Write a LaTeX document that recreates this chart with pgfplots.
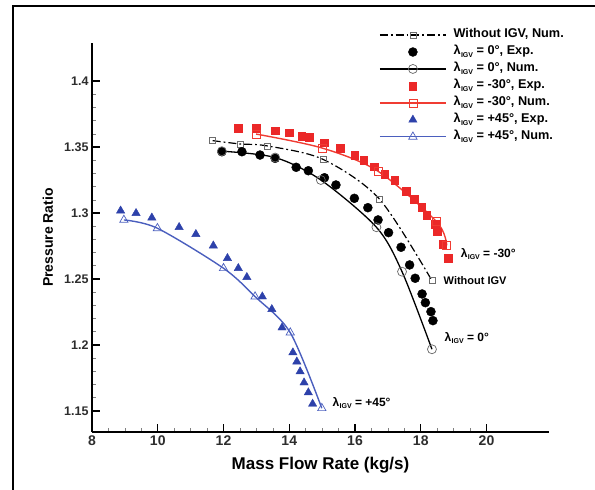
\documentclass[border=0pt]{standalone}
\usepackage{fontspec}
\setmainfont{Liberation Sans}
\usepackage{pgfplots}
\pgfplotsset{compat=1.18}

\definecolor{expred}{RGB}{235,40,40}
\definecolor{numred}{RGB}{240,60,50}
\definecolor{expblue}{RGB}{45,65,170}
\definecolor{numblue}{RGB}{75,95,190}
\definecolor{ticktext}{RGB}{45,45,45}

% lambda with the IGV subscript
\newcommand{\ligv}{λ\kern0.03em\raisebox{-0.4ex}{\fontsize{7}{7}\selectfont IGV}}

\begin{document}
\begin{tikzpicture}
\useasboundingbox (-92pt,-58pt) rectangle (503pt,432pt);
% outer frame
\draw[line width=1.4pt] (-79pt,-60pt) -- (-79pt,426pt) -- (505pt,426pt);
\begin{axis}[
  at={(0pt,0pt)}, anchor=south west,
  scale only axis, width=457pt, height=389pt,
  xmin=8, xmax=21.9, ymin=1.134, ymax=1.4288,
  axis x line=bottom, axis y line=left,
  axis line style={line width=1.3pt, -},
  xtick={8,10,12,14,16,18,20},
  xticklabels={8,10,12,14,16,18,20},
  ytick={1.15,1.2,1.25,1.3,1.35,1.4},
  yticklabels={1.15,1.2,1.25,1.3,1.35,1.4},
  minor x tick num=3, minor y tick num=4,
  tick align=inside,
  major tick length=8pt, minor tick length=4pt,
  every major tick/.style={line width=1.3pt, black},
  every minor tick/.style={line width=0.5pt, gray},
  xticklabel style={font=\fontsize{14}{14}\selectfont\bfseries, text=ticktext},
  yticklabel style={font=\fontsize{12.5}{12.5}\selectfont\bfseries, text=ticktext},
  xlabel={Mass Flow Rate (kg/s)},
  ylabel={Pressure Ratio},
  xlabel style={font=\fontsize{17}{17}\selectfont\bfseries, at={(axis description cs:0.5,0)}, anchor=center, yshift=-33pt},
  ylabel style={font=\fontsize{14}{14}\selectfont\bfseries, at={(axis description cs:-0.0963,0.5)}, anchor=center},
  legend cell align=left,
  legend style={at={(axis description cs:0.628,1.037)}, anchor=north west,
    draw=none, fill=none, inner sep=0pt,
    font=\fontsize{12.7}{12.7}\selectfont\bfseries,
    row sep=4.45pt, column sep=7pt,
    nodes={inner sep=0pt, text height=9pt, text depth=3.5pt}},
  legend image code/.code={\draw[mark repeat=2,mark phase=2] plot coordinates {(0pt,0pt)(33pt,0pt)(66pt,0pt)};},
  clip=false,
]
% numerical, without IGV
\addplot[black, line width=1.2pt, smooth, dash pattern=on 8pt off 3pt on 1.8pt off 3pt,
  mark=square, mark size=3pt, mark options={solid, draw=gray!85!black, fill=white, line width=0.6pt}]
  coordinates {(11.67,1.3548) (12.50,1.3523) (13.33,1.3508) (15.02,1.3407) (16.74,1.3106) (18.34,1.2487)};
\addlegendentry{Without IGV, Num.}
% experiment, 0 deg
\addplot[only marks, mark=*, mark size=4.5pt, black]
  coordinates {(11.95,1.3464) (12.56,1.3464) (13.11,1.3439) (13.57,1.3414) (14.21,1.3346) (14.58,1.3320)
  (15.07,1.3267) (15.42,1.3212) (15.98,1.3111) (16.39,1.3040) (16.70,1.2947) (17.02,1.2851)
  (17.40,1.2740) (17.66,1.2606) (17.83,1.2505) (18.04,1.2386) (18.14,1.2320) (18.31,1.2252) (18.37,1.2184)};
\addlegendentry{\ligv{} = 0°, Exp.}
% numerical, 0 deg
\addplot[black, line width=1.3pt, smooth, mark=o, mark size=4.5pt,
  mark options={draw=gray!80!black, line width=0.7pt}]
  coordinates {(11.95,1.3468) (13.57,1.3420) (14.96,1.3250) (16.65,1.2892) (17.43,1.2555) (18.34,1.1967)};
\addlegendentry{\ligv{} = 0°, Num.}
% experiment, -30 deg
\addplot[only marks, mark=square*, mark size=3.8pt, expred]
  coordinates {(12.45,1.3642) (12.99,1.3642) (13.57,1.3623) (14.00,1.3608) (14.38,1.3583) (14.61,1.3573)
  (15.07,1.3533) (15.55,1.3492) (15.99,1.3439) (16.27,1.3399) (16.58,1.3352) (16.90,1.3292)
  (17.21,1.3246) (17.56,1.3167) (17.80,1.3102) (18.03,1.3045) (18.18,1.2981) (18.43,1.2913)
  (18.50,1.2858) (18.67,1.2761) (18.84,1.2657)};
\addlegendentry{\ligv{} = -30°, Exp.}
% numerical, -30 deg
\addplot[numred, line width=1.4pt, smooth, mark=square, mark size=4pt,
  mark options={line width=0.7pt}]
  coordinates {(12.99,1.3598) (15.00,1.3492) (16.70,1.3316) (18.48,1.2934) (18.79,1.2754)};
\addlegendentry{\ligv{} = -30°, Num.}
% experiment, +45 deg
\addplot[only marks, mark=triangle*, mark size=4.8pt, expblue]
  coordinates {(8.87,1.3017) (9.34,1.2998) (9.82,1.2964) (10.65,1.2892) (11.16,1.2839) (11.69,1.2752)
  (12.12,1.2657) (12.45,1.2581) (12.71,1.2513) (13.18,1.2366) (13.47,1.2270) (13.78,1.2131)
  (14.11,1.1942) (14.23,1.1873) (14.33,1.1798) (14.45,1.1714) (14.58,1.1639) (14.71,1.1553)};
\addlegendentry{\ligv{} = +45°, Exp.}
% numerical, +45 deg
\addplot[numblue, line width=1.4pt, smooth, mark=triangle, mark size=4.8pt,
  mark options={line width=0.7pt}]
  coordinates {(8.97,1.2947) (9.99,1.2884) (12.00,1.2581) (12.96,1.2366) (14.03,1.2093) (14.99,1.1520)};
\addlegendentry{\ligv{} = +45°, Num.}

% curve labels
\node[anchor=west, font=\fontsize{12}{12}\selectfont\bfseries] at (axis cs:19.11,1.2689) {\ligv{} = -30°};
\node[anchor=west, font=\fontsize{11}{11}\selectfont\bfseries] at (axis cs:18.59,1.2485) {Without IGV};
\node[anchor=west, font=\fontsize{12}{12}\selectfont\bfseries] at (axis cs:18.62,1.2053) {\ligv{} = 0°};
\node[anchor=west, font=\fontsize{12}{12}\selectfont\bfseries] at (axis cs:15.21,1.1560) {\ligv{} = +45°};
\end{axis}
\end{tikzpicture}
\end{document}
